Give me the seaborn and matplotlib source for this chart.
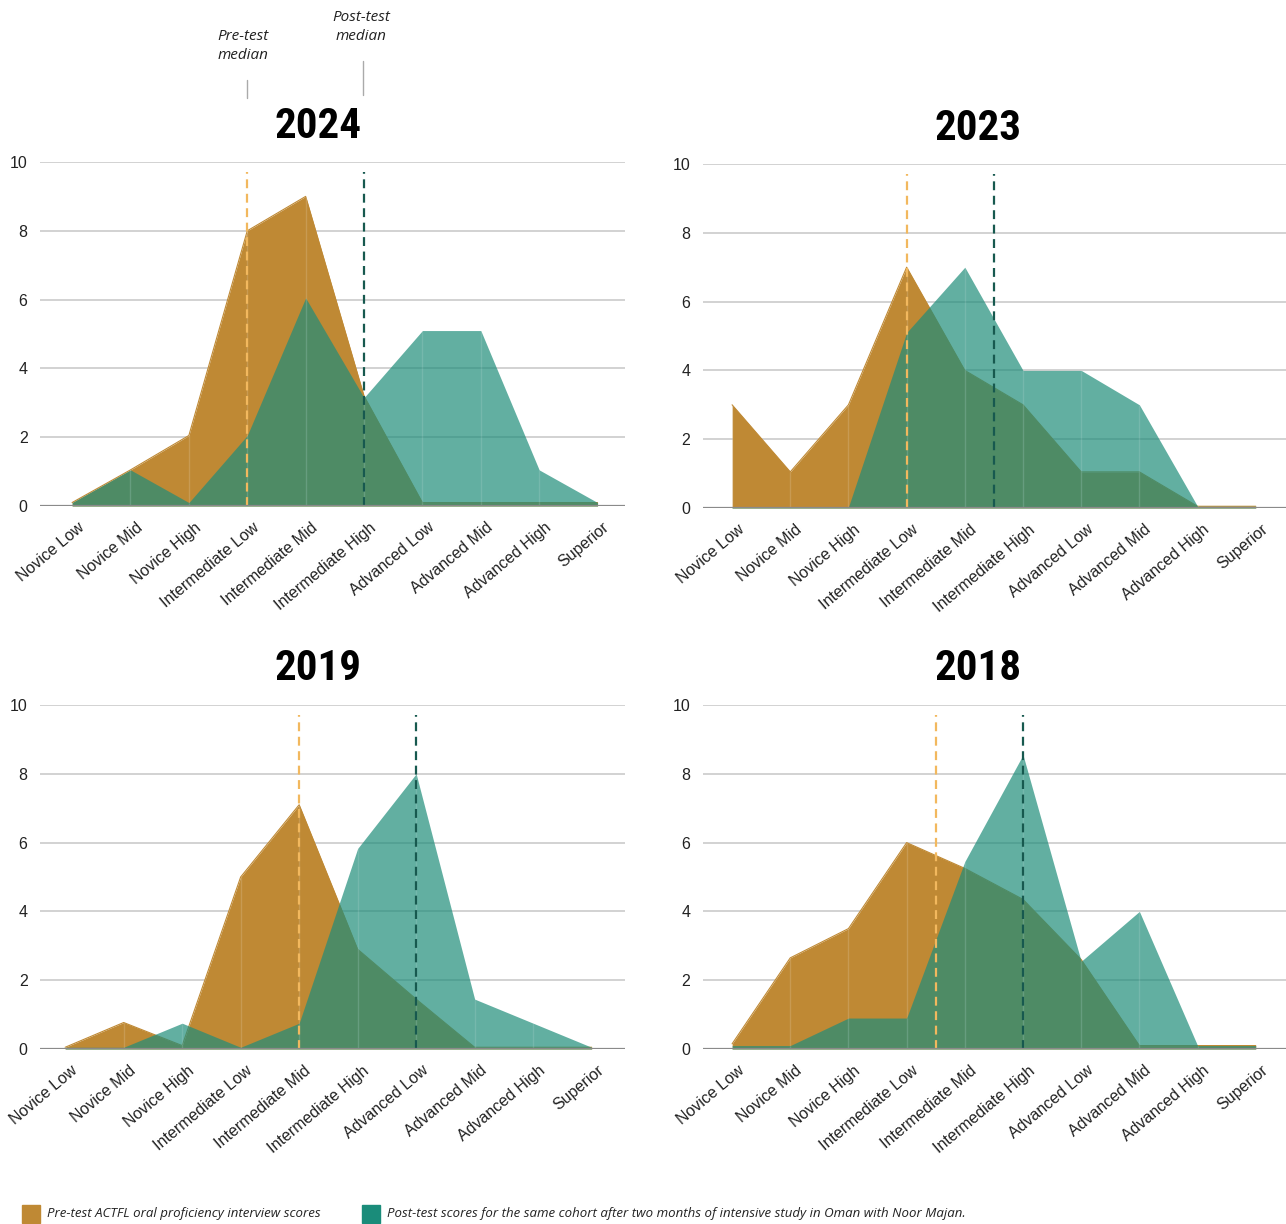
import numpy as np
import pandas as pd
import seaborn as sns
import matplotlib.pyplot as plt
import matplotlib.transforms as mtransforms

# levels on the ACTFL scale
levels = ['Novice Low', 'Novice Mid', 'Novice High', 'Intermediate Low',
          'Intermediate Mid', 'Intermediate High', 'Advanced Low',
          'Advanced Mid', 'Advanced High', 'Superior']

# number of students per level
pre_2024 = [0.1, 1.05, 2.05, 8.0, 9.0, 3.2, 0.1, 0.1, 0.1, 0.1]
post_2024 = [0.1, 1.05, 0.1, 2.05, 6.05, 3.15, 5.1, 5.1, 1.05, 0.1]
pre_2023 = [3.0, 1.05, 3.0, 7.0, 4.0, 3.0, 1.05, 1.05, 0.05, 0.05]
post_2023 = [0.03, 0.03, 0.03, 5.1, 7.0, 4.0, 4.0, 3.0, 0.05, 0.05]
pre_2019 = [0.05, 0.77, 0.1, 5.0, 7.1, 2.9, 1.45, 0.05, 0.05, 0.05]
post_2019 = [0.05, 0.05, 0.75, 0.05, 0.75, 5.83, 8.0, 1.45, 0.75, 0.05]
pre_2018 = [0.15, 2.65, 3.5, 6.0, 5.25, 4.35, 2.6, 0.1, 0.1, 0.1]
post_2018 = [0.1, 0.1, 0.9, 0.9, 5.45, 8.55, 2.55, 4.0, 0.1, 0.1]

# medians as positions on the level axis
pre_median = {'2024': 3, '2023': 3, '2019': 4, '2018': 3.5}
post_median = {'2024': 5, '2023': 4.5, '2019': 6, '2018': 5}

years = ['2024', '2023', '2019', '2018']
series = {'2024': (pre_2024, post_2024), '2023': (pre_2023, post_2023),
          '2019': (pre_2019, post_2019), '2018': (pre_2018, post_2018)}

ORANGE = '#BF8934'
TEAL = '#1F8D7A'
PRE_LINE = '#F2B85E'
POST_LINE = '#17594F'

sns.set_theme(style='white')
plt.rcParams['font.family'] = ['Liberation Sans', 'DejaVu Sans']

W, H = 1286, 1224
fig = plt.figure(figsize=(W / 100, H / 100), dpi=100)

# panel boxes in pixels: left, right, top, bottom, xlim
boxes = {
    '2024': (40, 625, 162, 506, (-0.55, 9.47)),
    '2023': (703, 1286, 164, 508, (-0.5, 9.52)),
    '2019': (40, 625, 705, 1049, (-0.43, 9.57)),
    '2018': (703, 1286, 705, 1049, (-0.5, 9.52)),
}
title_x = {'2024': 318, '2023': 978, '2019': 318, '2018': 978}

for yr in years:
    l, r, t, b, xl = boxes[yr]
    ax = fig.add_axes([l / W, 1 - b / H, (r - l) / W, (b - t) / H])
    pre, post = series[yr]
    df = pd.DataFrame({'x': np.arange(len(levels)), 'pre': pre, 'post': post})

    for yv in range(2, 11, 2):
        ax.axhline(yv, color='#CFCFCF', lw=1.3, zorder=0)

    ax.fill_between(df['x'], 0, df['pre'], color=ORANGE, lw=0, zorder=2)
    sns.lineplot(data=df, x='x', y='pre', color=ORANGE, lw=0.8, ax=ax, zorder=2)
    ax.vlines(df['x'], 0, df['pre'], color='white', alpha=0.15, lw=1, zorder=2.5)
    ax.fill_between(df['x'], 0, df['post'], color=TEAL, alpha=0.7, lw=0, zorder=3)
    ax.vlines(df['x'], 0, df['post'], color='white', alpha=0.12, lw=1, zorder=3.5)

    ax.vlines(pre_median[yr], 0, 9.7, color=PRE_LINE, lw=1.6,
              linestyles=(0, (4, 2.5)), zorder=4)
    ax.vlines(post_median[yr], 0, 9.7, color=POST_LINE, lw=1.6,
              linestyles=(0, (4, 2.5)), zorder=4)

    ax.axhline(0, color='#8A8A8A', lw=1.6, zorder=5)

    ax.set_xlim(*xl)
    ax.set_ylim(0, 10)
    ax.set_yticks(range(0, 11, 2))
    ax.set_yticklabels([str(v) for v in range(0, 11, 2)], fontsize=11.5, color='#222222')
    ax.set_xticks(df['x'])
    ax.set_xticklabels(levels, rotation=40, ha='right', rotation_mode='anchor',
                       fontsize=11.5, color='#222222')
    ax.tick_params(axis='x', length=0, pad=10)
    ax.tick_params(axis='y', length=0, pad=9)
    shift = mtransforms.ScaledTranslation(5 / 100, 0, fig.dpi_scale_trans)
    for lab in ax.get_xticklabels():
        lab.set_transform(lab.get_transform() + shift)
    ax.set_xlabel('')
    ax.set_ylabel('')
    for s in ax.spines.values():
        s.set_visible(False)

    fig.text(title_x[yr] / W, 1 - (t - 36) / H, yr, ha='center', va='center',
             fontsize=31, fontweight='bold', color='black',
             family=['Roboto Condensed', 'Liberation Sans Narrow', 'DejaVu Sans'])

# median annotations above the 2024 panel
note_font = ['Open Sans', 'DejaVu Sans']
fig.text(243 / W, 1 - 46 / H, 'Pre-test\nmedian', ha='center', va='center',
         fontsize=11, style='italic', color='#222222', linespacing=1.3, family=note_font)
fig.text(361 / W, 1 - 27 / H, 'Post-test\nmedian', ha='center', va='center',
         fontsize=11, style='italic', color='#222222', linespacing=1.3, family=note_font)
fig.add_artist(plt.Line2D([247 / W, 247 / W], [1 - 80 / H, 1 - 98 / H], color='#AAAAAA', lw=1))
fig.add_artist(plt.Line2D([363 / W, 363 / W], [1 - 61 / H, 1 - 95 / H], color='#AAAAAA', lw=1))

# legend at the bottom
fig.add_artist(plt.Rectangle((22 / W, 1 - 1223 / H), 18 / W, 18 / H, color=ORANGE))
fig.text(47 / W, 1 - 1214 / H, 'Pre-test ACTFL oral proficiency interview scores',
         ha='left', va='center', fontsize=9.5, style='italic', color='#222222', family=note_font)
fig.add_artist(plt.Rectangle((362 / W, 1 - 1223 / H), 18 / W, 18 / H, color='#1A8C7A'))
fig.text(387 / W, 1 - 1214 / H,
         'Post-test scores for the same cohort after two months of intensive study in Oman with Noor Majan.',
         ha='left', va='center', fontsize=9.5, style='italic', color='#222222', family=note_font)

fig.savefig('out.png', dpi=100)
